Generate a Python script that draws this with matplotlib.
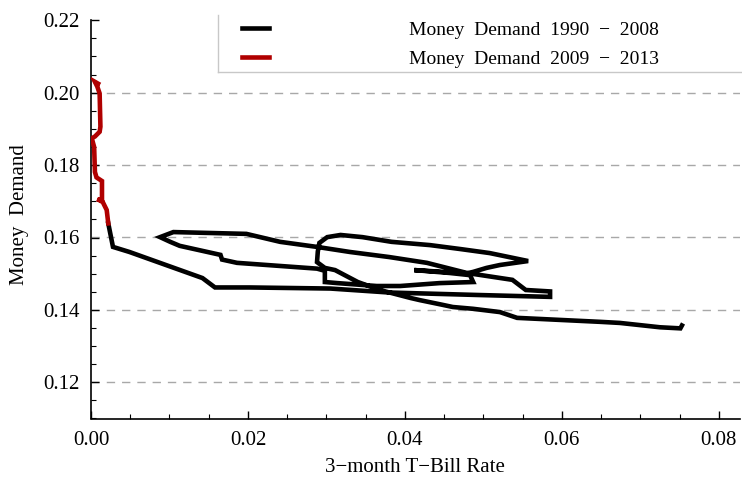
import matplotlib
matplotlib.use("Agg")
import matplotlib.pyplot as plt
from matplotlib.ticker import MultipleLocator, FormatStrFormatter
from matplotlib.lines import Line2D

plt.rcParams['font.family'] = ['Liberation Serif', 'DejaVu Serif']

# ---- data ----
rate_1990_2008 = [0.0753, 0.0751, 0.0725, 0.0674, 0.0649, 0.0543, 0.0521, 0.0487, 0.0461, 0.0448,
                  0.0419, 0.0407, 0.0368, 0.0340, 0.0311, 0.0298, 0.0288, 0.0289, 0.0291, 0.0301,
                  0.0318, 0.0346, 0.0383, 0.0432, 0.0471, 0.0508, 0.0557, 0.0521, 0.0504, 0.0487,
                  0.0479, 0.0412, 0.0457, 0.0483, 0.0487, 0.0444, 0.0394, 0.0364, 0.0314, 0.0298,
                  0.0298, 0.0288, 0.0186, 0.0167, 0.0165, 0.0113, 0.0101, 0.0088, 0.0105, 0.0198,
                  0.0241, 0.0288, 0.0330, 0.0380, 0.0428, 0.0479, 0.0537, 0.0554, 0.0585, 0.0585,
                  0.0496, 0.0380, 0.0305, 0.0202, 0.0158, 0.0142, 0.0049, 0.0028, 0.0022]
md_1990_2008 = [0.1357, 0.1349, 0.1352, 0.1364, 0.1367, 0.1378, 0.1394, 0.1403, 0.1408, 0.1414,
                0.1427, 0.1433, 0.1455, 0.1477, 0.1510, 0.1516, 0.1532, 0.1561, 0.1585, 0.1601,
                0.1607, 0.1601, 0.1588, 0.1579, 0.1568, 0.1557, 0.1535, 0.1524, 0.1516, 0.1505,
                0.1501, 0.1510, 0.1502, 0.1496, 0.1477, 0.1474, 0.1466, 0.1466, 0.1474, 0.1477,
                0.1508, 0.1514, 0.1530, 0.1539, 0.1552, 0.1577, 0.1588, 0.1601, 0.1615, 0.1610,
                0.1588, 0.1574, 0.1560, 0.1546, 0.1530, 0.1502, 0.1483, 0.1455, 0.1451, 0.1436,
                0.1441, 0.1448, 0.1459, 0.1462, 0.1462, 0.1488, 0.1560, 0.1574, 0.1639]

rate_2009_2013 = [0.0022, 0.0020, 0.0015, 0.0008, 0.0014, 0.0014, 0.0007, 0.0005, 0.0004, 0.0001,
                  0.0005, 0.0011, 0.0012, 0.0011, 0.0008, 0.0005, 0.0009]
md_2009_2013 = [0.1639, 0.1676, 0.1698, 0.1706, 0.1702, 0.1756, 0.1766, 0.1781, 0.1850, 0.1874,
                0.1879, 0.1892, 0.1906, 0.1998, 0.2017, 0.2030, 0.2025]

labels = ['Money  Demand  1990  \u2212  2008', 'Money  Demand  2009  \u2212  2013']
colors = ['#000000', '#b00000']
grid_levels = [0.12, 0.14, 0.16, 0.18, 0.20]

# ---- figure ----
fig = plt.figure(figsize=(7.42, 4.87), dpi=100)
ax = fig.add_axes([91 / 742, (487 - 418.5) / 487, 649 / 742, (418.5 - 20.3) / 487])

for g in grid_levels:
    ax.axhline(g, color='#a8a8a8', lw=1.0, ls=(0, (6, 5)), zorder=0)

ax.plot(rate_1990_2008, md_1990_2008, color=colors[0], lw=3.3,
        solid_joinstyle='miter', label=labels[0], zorder=3)
ax.plot(rate_2009_2013, md_2009_2013, color=colors[1], lw=3.3,
        solid_joinstyle='miter', label=labels[1], zorder=4)

ax.set_xlim(0, 0.0827)
ax.set_ylim(0.11, 0.22)
ax.xaxis.set_major_locator(MultipleLocator(0.02))
ax.xaxis.set_minor_locator(MultipleLocator(0.005))
ax.yaxis.set_major_locator(MultipleLocator(0.02))
ax.yaxis.set_minor_locator(MultipleLocator(0.005))
ax.xaxis.set_major_formatter(FormatStrFormatter('%.2f'))
ax.yaxis.set_major_formatter(FormatStrFormatter('%.2f'))

for s in ['top', 'right']:
    ax.spines[s].set_visible(False)
for s in ['left', 'bottom']:
    ax.spines[s].set_linewidth(1.2)
ax.tick_params(which='both', direction='in', top=False, right=False, labelsize=15)
ax.tick_params(which='major', length=6, width=1.0)
ax.tick_params(which='minor', length=3.5, width=0.8)
ax.tick_params(axis='x', which='major', pad=9)
ax.tick_params(axis='y', which='major', pad=8)

fig.text(415 / 742, 1 - 468 / 487, '3\u2212month T\u2212Bill Rate', ha='center', va='center', fontsize=15)
fig.text(20 / 742, 1 - 215 / 487, 'Money  Demand', ha='center', va='center', rotation=90, fontsize=15)

# legend frame (left and bottom edges visible)
fig.add_artist(Line2D([218 / 742, 218 / 742], [1 - 15 / 487, 1 - 72 / 487], color='#c8c8c8', lw=1.0))
fig.add_artist(Line2D([218 / 742, 1.0], [1 - 72 / 487, 1 - 72 / 487], color='#c8c8c8', lw=1.0))

leg = ax.legend(loc='upper left', bbox_to_anchor=(242 / 742, 1 - 21 / 487),
                bbox_transform=fig.transFigure, frameon=False, fontsize=14,
                handlelength=1.4, handletextpad=7.2, labelspacing=0.62, borderpad=0,
                borderaxespad=0)

fig.savefig('out.png', dpi=100)
